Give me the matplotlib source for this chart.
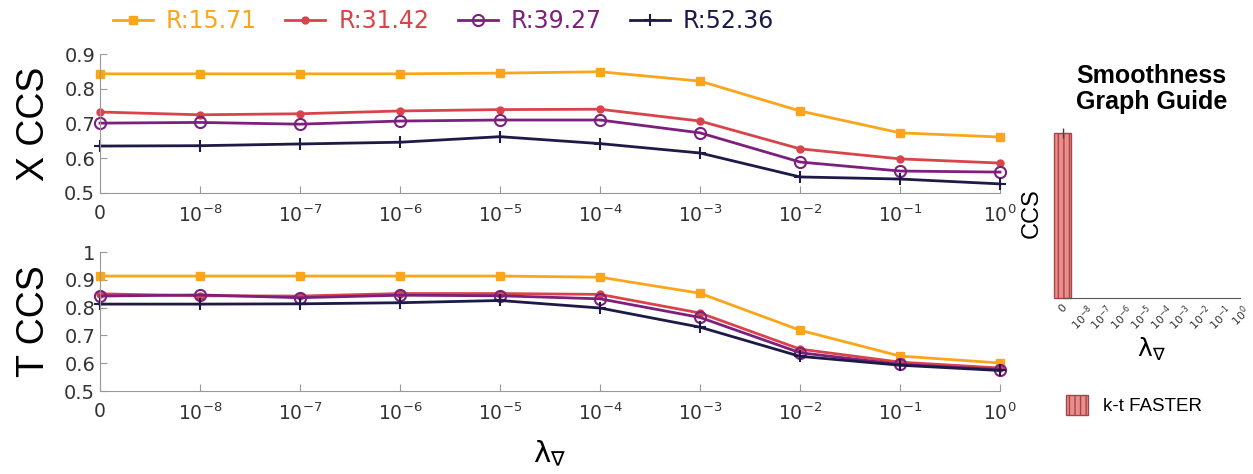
import numpy as np
from matplotlib import pyplot as plt
from matplotlib.patches import Patch

plt.rcParams['mathtext.default'] = 'regular'
plt.rcParams['font.family'] = 'DejaVu Sans'

xlabels = ['0', '$10^{-8}$', '$10^{-7}$', '$10^{-6}$', '$10^{-5}$',
           '$10^{-4}$', '$10^{-3}$', '$10^{-2}$', '$10^{-1}$', '$10^{0}$']
series = ['R:15.71', 'R:31.42', 'R:39.27', 'R:52.36']

x_r1571 = [0.843, 0.843, 0.843, 0.843, 0.845, 0.849, 0.822, 0.736, 0.673, 0.661]
x_r3142 = [0.733, 0.725, 0.728, 0.736, 0.740, 0.741, 0.707, 0.627, 0.598, 0.586]
x_r3927 = [0.701, 0.703, 0.698, 0.707, 0.710, 0.710, 0.673, 0.589, 0.563, 0.560]
x_r5236 = [0.635, 0.636, 0.641, 0.646, 0.662, 0.642, 0.615, 0.546, 0.540, 0.526]

t_r1571 = [0.914, 0.914, 0.914, 0.914, 0.914, 0.910, 0.852, 0.719, 0.626, 0.601]
t_r3142 = [0.850, 0.843, 0.842, 0.851, 0.851, 0.848, 0.781, 0.651, 0.604, 0.583]
t_r3927 = [0.842, 0.846, 0.836, 0.845, 0.843, 0.832, 0.765, 0.638, 0.596, 0.577]
t_r5236 = [0.813, 0.813, 0.814, 0.818, 0.826, 0.799, 0.730, 0.625, 0.593, 0.574]

guide_value = [0.97]
guide_err = [0.03]

colors = ['#FBA51A', '#D9434A', '#7D1F7C', '#1D1A47']
styles = [dict(marker='s', ms=6, mfc='#FBA51A'),
          dict(marker='o', ms=5),
          dict(marker='o', ms=8, mfc='none', mew=1.5),
          dict(marker='+', ms=8, mew=1.5)]

fig = plt.figure(figsize=(12.53, 4.74), dpi=100)
ax1 = fig.add_axes([0.0798, 0.593, 0.7183, 0.293])
ax2 = fig.add_axes([0.0798, 0.175, 0.7183, 0.293])

idx = np.arange(len(xlabels))


def style_axis(ax, ylim, yticks, ylabel):
    ax.set_xlim(0, 9)
    ax.set_ylim(*ylim)
    ax.set_yticks(yticks)
    ax.set_yticklabels([('%g' % v) for v in yticks])
    ax.set_xticks(idx)
    ax.set_xticklabels(xlabels)
    for s in ['top', 'right']:
        ax.spines[s].set_visible(False)
    for s in ['left', 'bottom']:
        ax.spines[s].set_color('#999999')
    ax.tick_params(direction='in', length=5, color='#999999', labelsize=14,
                   labelcolor='#333333')
    ax.tick_params(axis='x', labelsize=13.5, pad=8)
    ax.set_ylabel(ylabel, fontsize=27, family='Liberation Sans', labelpad=9)


lines = []
for vals, c, st, name in zip([x_r1571, x_r3142, x_r3927, x_r5236], colors, styles, series):
    l, = ax1.plot(idx, vals, color=c, lw=2, label=name, clip_on=False, **st)
    lines.append(l)
for vals, c, st in zip([t_r1571, t_r3142, t_r3927, t_r5236], colors, styles):
    ax2.plot(idx, vals, color=c, lw=2, clip_on=False, **st)

style_axis(ax1, (0.5, 0.9), [0.5, 0.6, 0.7, 0.8, 0.9], 'X CCS')
style_axis(ax2, (0.5, 1.0), [0.5, 0.6, 0.7, 0.8, 0.9, 1.0], 'T CCS')
ax2.set_xlabel(r'$\lambda_{\nabla}$', fontsize=21, labelpad=11)

leg = fig.legend(handles=lines, loc='center', bbox_to_anchor=(0.354, 0.955), ncol=4,
                 frameon=False, fontsize=17, handlelength=1.7, columnspacing=1.2,
                 handletextpad=0.55)
for txt, c in zip(leg.get_texts(), colors):
    txt.set_color(c)

# smoothness guide
ax3 = fig.add_axes([0.848, 0.371, 0.142, 0.359])
ax3.bar([0], guide_value, width=0.9, color='#EE8B8B', edgecolor='#A04848',
        hatch='|||', lw=1, clip_on=False)
ax3.errorbar([0], guide_value, yerr=guide_err, fmt='none', ecolor='#444444',
             lw=1, capsize=0, clip_on=False)
ax3.set_xlim(0, 9)
ax3.set_ylim(0, 1)
ax3.set_yticks([])
ax3.set_xticks(idx)
ax3.set_xticklabels(xlabels, rotation=45, fontsize=8, color='#333333')
for s in ['top', 'right', 'left']:
    ax3.spines[s].set_visible(False)
ax3.spines['bottom'].set_color('#555555')
ax3.tick_params(axis='x', length=0, pad=3)
ax3.set_ylabel('CCS', fontsize=17, family='Liberation Sans', labelpad=14)
ax3.set_xlabel(r'$\lambda_{\nabla}$', fontsize=18, labelpad=2)
ax3.set_title('Smoothness\nGraph Guide', fontsize=18, fontweight='bold',
              family='Liberation Sans', pad=14, x=0.5, linespacing=1.1)

fig.legend(handles=[Patch(facecolor='#EE8B8B', edgecolor='#A04848', hatch='|||',
                          label='k-t FASTER')],
           loc='center left', bbox_to_anchor=(0.837, 0.145), frameon=False,
           handlelength=1.2, handleheight=1.2, handletextpad=0.8,
           prop={'family': 'Liberation Sans', 'size': 13.5})

fig.savefig('out.png')
